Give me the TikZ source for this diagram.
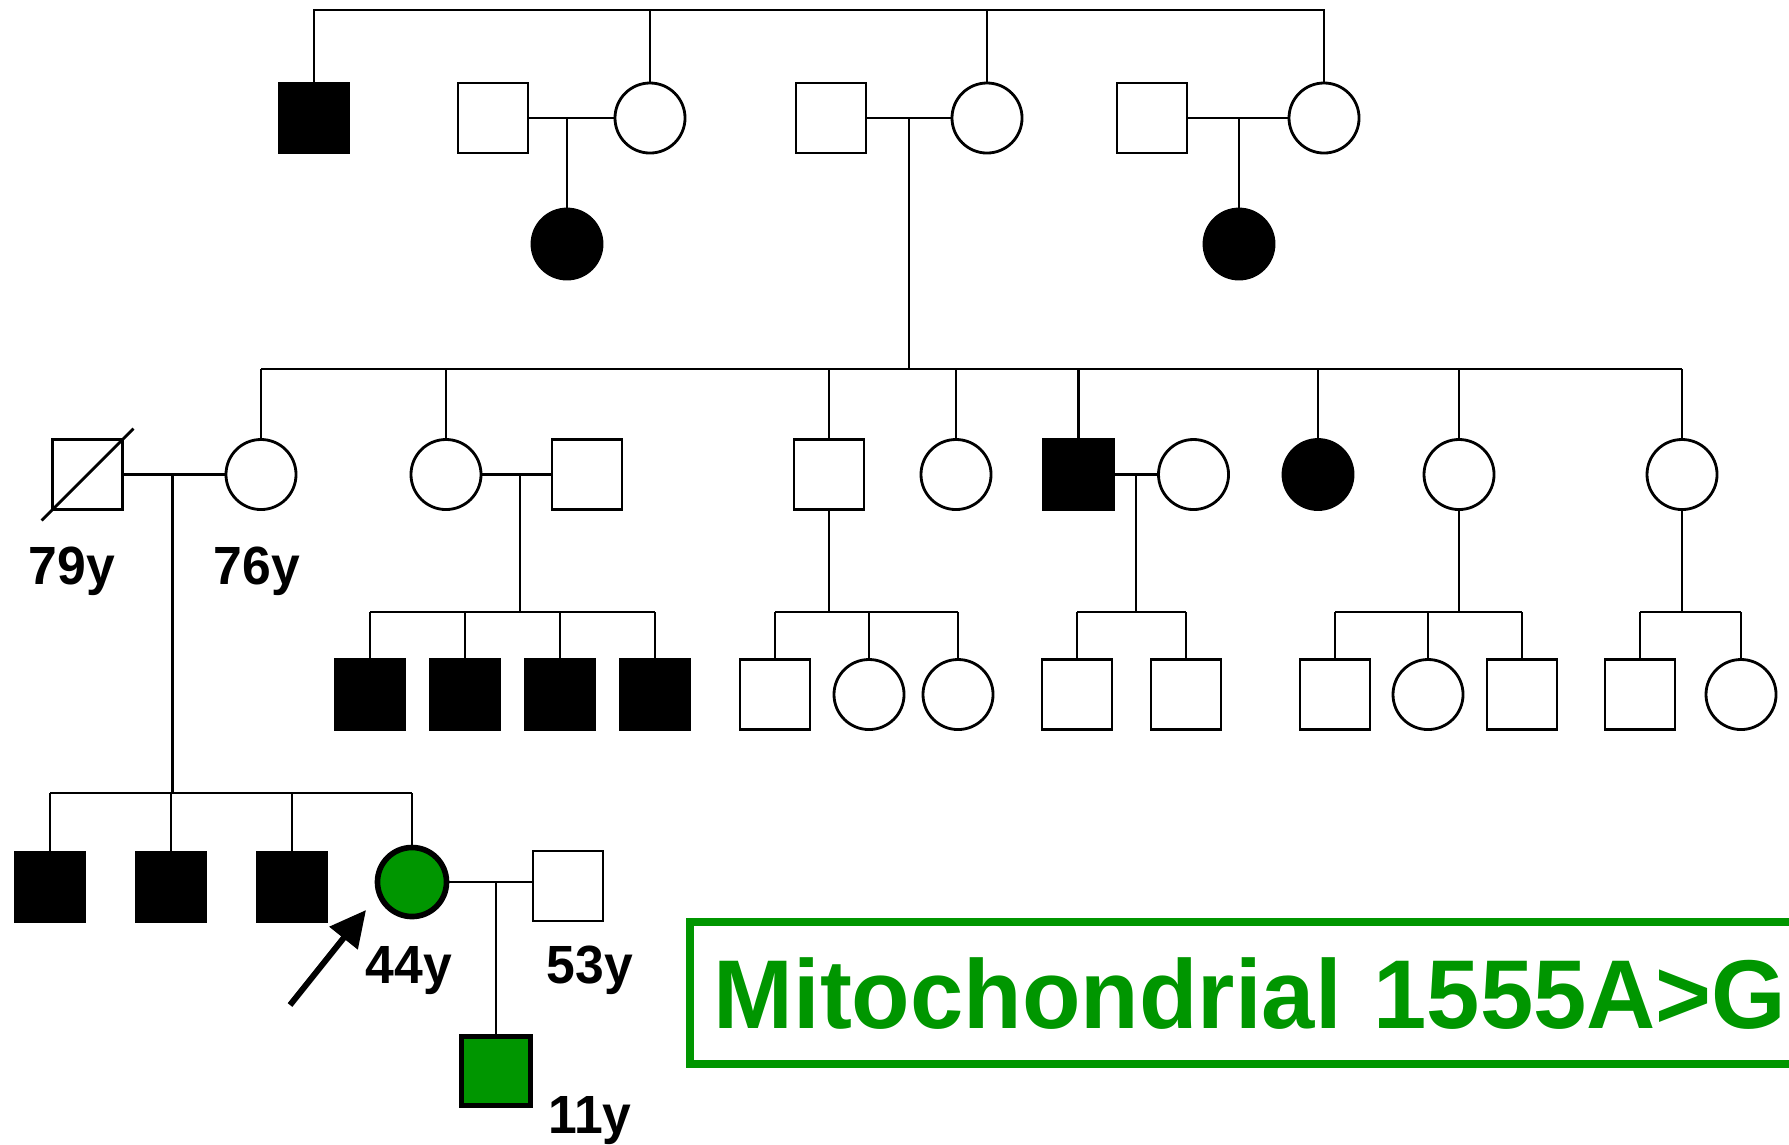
\documentclass[tikz,border=0pt]{standalone}
\usepackage{graphicx}
\usepackage{fontspec}
\setmainfont{Liberation Sans}
\usetikzlibrary{positioning, arrows.meta, calc}
\colorlet{ink}{black}
\definecolor{mtG}{RGB}{0,150,0}
\newcommand{\agefont}{\fontsize{15.3pt}{17pt}\selectfont\bfseries}
\newcommand{\mutfont}{\fontsize{27.8pt}{30pt}\selectfont\bfseries}
\newcommand{\narrow}[2][0.96]{\scalebox{#1}[1]{#2}}
\tikzset{
  person/.style  ={draw=ink, fill=white, line width=0.8pt, inner sep=0pt,
                   minimum size=0.70cm},
  Male/.style    ={person, rectangle},
  Female/.style  ={person, circle},
  MaleA/.style   ={Male, fill=ink},
  FemaleA/.style ={Female, fill=ink},
  MaleM/.style   ={Male, fill=mtG, line width=1.6pt, minimum size=0.69cm},
  FemaleM/.style ={Female, fill=mtG, line width=1.6pt, minimum size=0.69cm},
  tie/.style     ={-, ink, line width=0.8pt},
  age/.style     ={font=\agefont, anchor=base, inner sep=0pt},
  mutbox/.style  ={draw=mtG, text=mtG, line width=2.3pt, font=\mutfont,
                   minimum height=1.42cm, text width=12cm, align=left,
                   inner xsep=0.235cm, inner ysep=0pt},
  pointer/.style ={-{Triangle[length=0.36cm, width=0.35cm]}, ink,
                   line width=1.7pt},
}

\begin{document}
\begin{tikzpicture}[x=0.01cm, y=-0.01cm]
\useasboundingbox (0,0) rectangle (1789,1144);
\clip (0,0) rectangle (1789,1144);

% generation I
\node[MaleA]   (I1) at ( 314,118) {};
\node[Male]    (I2) at ( 493,118) {};
\node[Female]  (I3) at ( 650,118) {};
\node[Male]    (I4) at ( 831,118) {};
\node[Female]  (I5) at ( 987,118) {};
\node[Male]    (I6) at (1152,118) {};
\node[Female]  (I7) at (1324,118) {};
\coordinate (sib1) at (0,10);
\draw[tie] (I1.north) |- (sib1 -| I7) -- (I7.north);
\draw[tie] (I3.north) -- (I3 |- sib1);
\draw[tie] (I5.north) -- (I5 |- sib1);
\draw[tie] (I2) -- (I3);
\draw[tie] (I4) -- (I5);
\draw[tie] (I6) -- (I7);

\node[FemaleA] (IIa) at ( 567,244) {};
\node[FemaleA] (IIb) at (1239,244) {};
\draw[tie] (IIa.north) -- (IIa |- I2);
\draw[tie] (IIb.north) -- (IIb |- I6);

% generation II
\coordinate (sib2) at (0,369);
\node[Male]    (II1)  at (  87.5,474.5) {};
\node[Female]  (II2)  at ( 261,474.5) {};
\node[Female]  (II3)  at ( 446,474.5) {};
\node[Male]    (II4)  at ( 587,474.5) {};
\node[Male]    (II5)  at ( 829,474.5) {};
\node[Female]  (II6)  at ( 956,474.5) {};
\node[MaleA]   (II7)  at (1078.5,474.5) {};
\node[Female]  (II8)  at (1193.5,474.5) {};
\node[FemaleA] (II9)  at (1318,474.5) {};
\node[Female]  (II10) at (1459,474.5) {};
\node[Female]  (II11) at (1682,474.5) {};
\draw[tie] ($(II1.south west)!-0.13!(II1.north east)$)
        -- ($(II1.north east)!-0.13!(II1.south west)$);

\coordinate (m45) at ($(I4.east)!0.5!(I5.west)$);
\draw[tie] (m45) -- (m45 |- sib2);
\draw[tie] (II2 |- sib2) -- (II11 |- sib2);
\foreach \p in {II2,II3,II5,II6,II7,II9,II10,II11}
  \draw[tie] (\p.north) -- (\p |- sib2);
\draw[tie] (II1) -- (II2);
\draw[tie] (II3) -- (II4);
\draw[tie] (II7) -- (II8);

% generation III
\coordinate (sib3) at (0,612);
\node[MaleA]  (III1)  at ( 370,694.5) {};
\node[MaleA]  (III2)  at ( 465,694.5) {};
\node[MaleA]  (III3)  at ( 560,694.5) {};
\node[MaleA]  (III4)  at ( 655,694.5) {};
\node[Male]   (III5)  at ( 775,694.5) {};
\node[Female] (III6)  at ( 869,694.5) {};
\node[Female] (III7)  at ( 958,694.5) {};
\node[Male]   (III8)  at (1077,694.5) {};
\node[Male]   (III9)  at (1186,694.5) {};
\node[Male]   (III10) at (1335,694.5) {};
\node[Female] (III11) at (1428,694.5) {};
\node[Male]   (III12) at (1522,694.5) {};
\node[Male]   (III13) at (1640,694.5) {};
\node[Female] (III14) at (1741,694.5) {};

\coordinate (m34) at ($(II3.east)!0.55!(II4.west)$);
\coordinate (m78) at ($(II7.east)!0.5!(II8.west)$);
\draw[tie] (m34) -- (m34 |- sib3);
\draw[tie] (m78) -- (m78 |- sib3);
\draw[tie] (II5.south) -- (II5 |- sib3);
\draw[tie] (II10.south) -- (II10 |- sib3);
\draw[tie] (II11.south) -- (II11 |- sib3);
\foreach \a/\b in {III1/III4, III5/III7, III8/III9, III10/III12, III13/III14}
  \draw[tie] (\a |- sib3) -- (\b |- sib3);
\foreach \c in {III1,III2,III3,III4,III5,III6,III7,III8,III9,III10,III11,III12,III13,III14}
  \draw[tie] (\c.north) -- (\c |- sib3);

% generation IV
\coordinate (sib4) at (0,793);
\node[MaleA]   (IV1) at (  50,887) {};
\node[MaleA]   (IV2) at ( 171,887) {};
\node[MaleA]   (IV3) at ( 292,887) {};
\node[FemaleM] (IV4) at ( 412,882) {};
\node[Male]    (IV5) at ( 568,886) {};
\coordinate (m12) at ($(II1.east)!0.48!(II2.west)$);
\draw[tie] (m12) -- (m12 |- sib4);
\draw[tie] (IV1 |- sib4) -- (IV4 |- sib4);
\foreach \c in {IV1,IV2,IV3,IV4}
  \draw[tie] (\c.north) -- (\c |- sib4);
\draw[tie] (IV4.east) -- (IV4.east -| IV5.west);

% generation V
\node[MaleM] (V1) at (496,1071) {};
\draw[tie] (V1.north) -- (V1 |- IV4);

% proband
\coordinate (ptail) at (290,1005);
\coordinate (ptip)  at (366,910);
\draw[pointer] (ptail) -- (ptip);

% ages
\node[age] (aII1) at (72,584)    {\narrow{79y}};
\node[age] (aII2) at (257,584)   {\narrow{76y}};
\node[age] (aIV4) at (409,983)   {\narrow{44y}};
\node[age] (aIV5) at (590,983)   {\narrow{53y}};
\node[age] (aV1)  at (590,1133)  {\narrow{11y}};

\node[mutbox, anchor=north west] (mut) at (686,918)
  {\narrow[0.98]{Mitochondrial 1555A>G}};

\end{tikzpicture}
\end{document}
